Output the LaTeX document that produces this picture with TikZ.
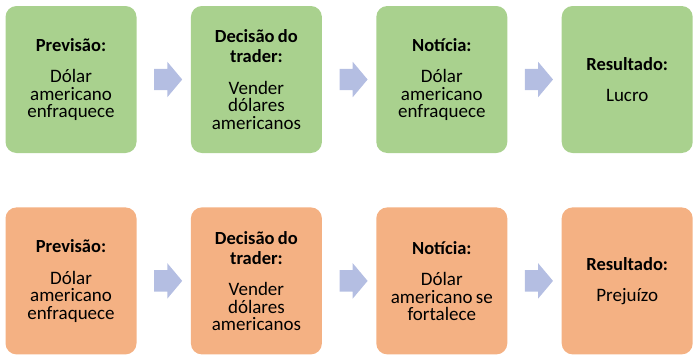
\documentclass[tikz,border=0pt]{standalone}
\usepackage{fontspec}
\setmainfont{Carlito}
\usetikzlibrary{positioning,shapes.arrows}
\definecolor{leafgreen}{HTML}{A9D18E}
\definecolor{peach}{HTML}{F4B183}
\definecolor{lilac}{HTML}{B4BEE2}
\newcommand{\stagetext}[2]{{\fontsize{18.5}{20}\selectfont\bfseries #1\par}\vspace{14pt}{\fontsize{19}{17.5}\selectfont #2\par}}
\tikzset{
  stage/.style={fill=#1,rounded corners=11pt,minimum width=131pt,minimum height=147pt,
    text width=121pt,inner xsep=5pt,inner ysep=0pt,align=center},
  flowarrow/.style={single arrow,fill=lilac,inner xsep=0pt,inner ysep=10.5pt,
    minimum height=28pt,single arrow head extend=7pt,single arrow tip angle=100}
}

\begin{document}
\begin{tikzpicture}[x=1pt,y=1pt,node distance=54pt]
  \useasboundingbox (0,0) rectangle (699,360);
  % forecast is right
  \node[stage=leafgreen] (g1) at (71,280.5) {\stagetext{Previsão:}{Dólar\\americano\\enfraquece}};
  \node[stage=leafgreen,right=of g1] (g2) {\stagetext{Decisão do\\trader:}{Vender\\dólares\\americanos}};
  \node[stage=leafgreen,right=of g2] (g3) {\stagetext{Notícia:}{Dólar\\americano\\enfraquece}};
  \node[stage=leafgreen,right=of g3] (g4) {\stagetext{Resultado:}{Lucro}};
  % forecast is wrong
  \node[stage=peach,below=of g1] (o1) {\stagetext{Previsão:}{Dólar\\americano\\enfraquece}};
  \node[stage=peach,right=of o1] (o2) {\stagetext{Decisão do\\trader:}{Vender\\dólares\\americanos}};
  \node[stage=peach,right=of o2] (o3) {\stagetext{Notícia:}{Dólar\\americano se\\fortalece}};
  \node[stage=peach,right=of o3] (o4) {\stagetext{Resultado:}{Prejuízo}};
  % block arrows
  \foreach \a/\b in {g1/g2,g2/g3,g3/g4,o1/o2,o2/o3,o3/o4}
    \path (\a) -- node[flowarrow]{} (\b);
\end{tikzpicture}
\end{document}
